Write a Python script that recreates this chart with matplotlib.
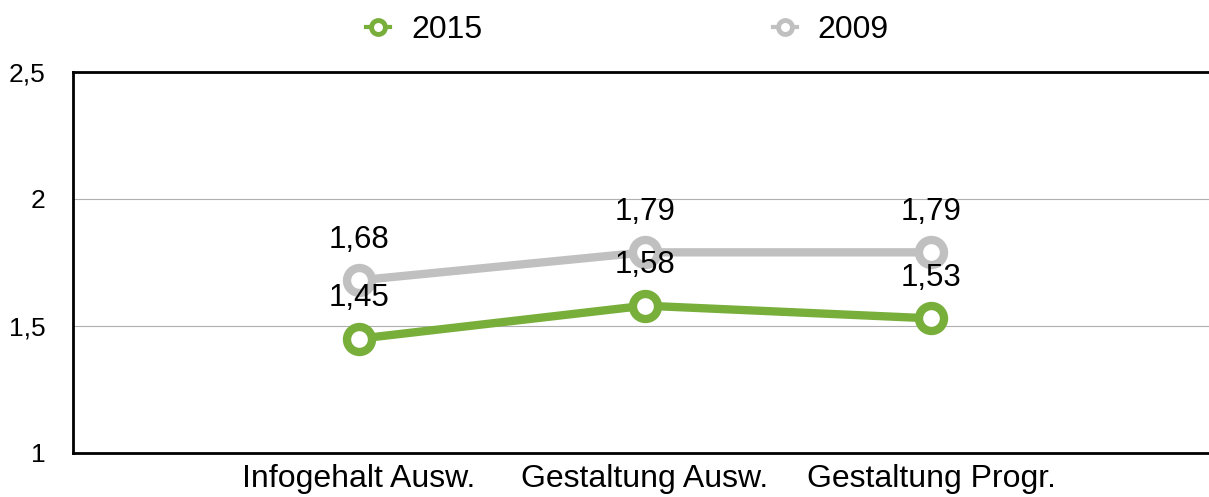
import matplotlib.pyplot as plt
from matplotlib.lines import Line2D

categories = ["Infogehalt Ausw.", "Gestaltung Ausw.", "Gestaltung Progr."]
values_2015 = [1.45, 1.58, 1.53]
values_2009 = [1.68, 1.79, 1.79]
y_ticks = [1, 1.5, 2, 2.5]

green = "#78AE3A"
gray = "#C0C0C0"

plt.rcParams["font.family"] = ["Liberation Sans", "DejaVu Sans"]

fig = plt.figure(figsize=(12.09, 4.97), dpi=100)
ax = fig.add_axes([73 / 1209, 44 / 497, 1144 / 1209, 381 / 497])

x = [1, 2, 3]
for vals, col, z in [(values_2009, gray, 3), (values_2015, green, 4)]:
    ax.plot(x, vals, color=col, lw=6, marker="o", ms=18, mew=6,
            mec=col, mfc="white", zorder=z, solid_capstyle="round")
    for xi, v in zip(x, vals):
        ax.annotate(f"{v:.2f}".replace(".", ","), (xi, v), xytext=(0, 29),
                    textcoords="offset points", ha="center", va="center",
                    fontsize=22.5, zorder=5)

ax.set_xlim(0, 4)
ax.set_ylim(1, 2.5)
ax.set_yticks(y_ticks)
ax.set_yticklabels([f"{t:g}".replace(".", ",") for t in y_ticks], fontsize=19)
ax.set_xticks(x)
ax.set_xticklabels(categories, fontsize=23)
ax.tick_params(length=0)
ax.tick_params(axis="y", pad=20)
ax.tick_params(axis="x", pad=8)
ax.yaxis.grid(True, color="#B0B0B0", lw=0.8)
ax.set_axisbelow(True)
for s in ["top", "left", "bottom"]:
    ax.spines[s].set_linewidth(2)
    ax.spines[s].set_color("black")
ax.spines["right"].set_visible(False)

handles = [
    Line2D([], [], color=green, lw=3, marker="o", ms=10, mew=3.5,
           mec=green, mfc="white"),
    Line2D([], [], color=gray, lw=3, marker="o", ms=10, mew=3.5,
           mec=gray, mfc="white"),
]
fig.legend(handles, ["2015", "2009"], loc="center", bbox_to_anchor=(0.519, 0.94),
           ncol=2, frameon=False, fontsize=23, handlelength=0.75,
           handletextpad=0.65, columnspacing=9.1)

fig.savefig("out.png", dpi=100)
